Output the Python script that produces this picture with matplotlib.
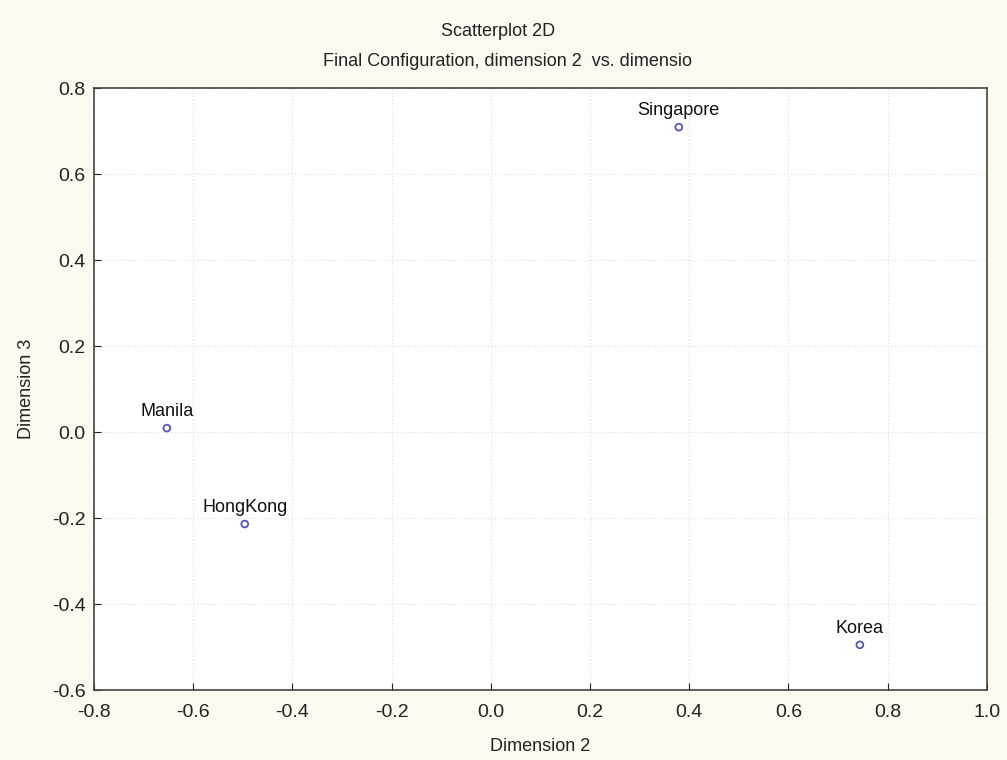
import matplotlib
matplotlib.use("Agg")
import matplotlib.pyplot as plt

cities = ["Manila", "HongKong", "Singapore", "Korea"]
dim2 = [-0.653, -0.496, 0.379, 0.744]
dim3 = [0.009, -0.214, 0.709, -0.495]
xticks = [-0.8, -0.6, -0.4, -0.2, 0.0, 0.2, 0.4, 0.6, 0.8, 1.0]
yticks = [-0.6, -0.4, -0.2, 0.0, 0.2, 0.4, 0.6, 0.8]

plt.rcParams['font.family'] = ['Liberation Sans', 'DejaVu Sans']
bg = "#FDF9EE"
fig = plt.figure(figsize=(10.07, 7.6), dpi=100, facecolor=bg)
ax = fig.add_axes([0.0933, 0.0921, 0.8867, 0.7921])
ax.set_facecolor("white")

ax.scatter(dim2, dim3, s=24, facecolors="none", edgecolors="#5555BB", linewidths=1.3, zorder=3)
for name, x, y in zip(cities, dim2, dim3):
    ax.annotate(name, (x, y), xytext=(0, 6), textcoords="offset points",
                ha="center", va="bottom", fontsize=13, color="#111111")

ax.set_xlim(-0.8, 1.0)
ax.set_ylim(-0.6, 0.8)
ax.set_xticks(xticks)
ax.set_yticks(yticks)
ax.set_xticklabels([f"{v:.1f}" for v in xticks])
ax.set_yticklabels([f"{v:.1f}" for v in yticks])
ax.tick_params(direction="in", length=5, labelsize=14, colors="#222222")
ax.tick_params(axis="x", pad=10)
ax.tick_params(axis="y", pad=6)
ax.grid(True, color="#DDDDDD", linestyle=(0, (1, 2)), linewidth=0.8)
for s in ax.spines.values():
    s.set_color("#444444")
    s.set_linewidth(1.2)

ax.set_xlabel("Dimension 2", fontsize=13, color="#222222", labelpad=12)
ax.set_ylabel("Dimension 3", fontsize=13, color="#222222", labelpad=12)

fig.text(0.495, 0.958, "Scatterplot 2D", ha="center", va="center", fontsize=13, color="#222222")
fig.text(0.504, 0.919, "Final Configuration, dimension 2  vs. dimensio", ha="center", va="center",
         fontsize=13, color="#222222")

fig.savefig("out.png", dpi=100, facecolor=bg)
